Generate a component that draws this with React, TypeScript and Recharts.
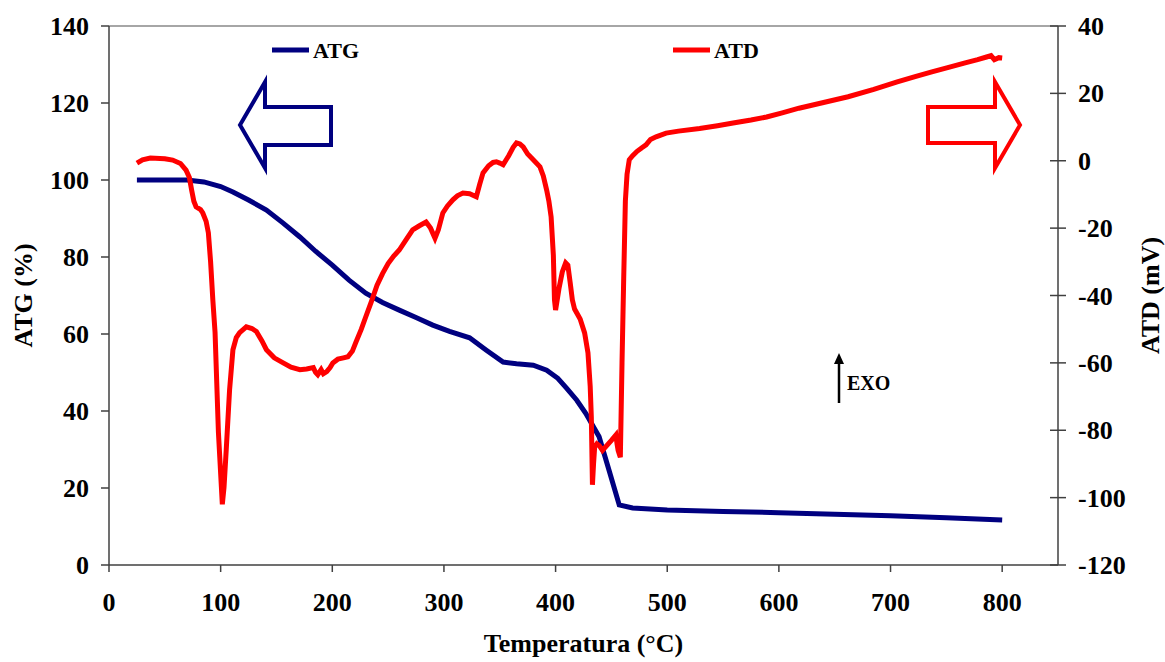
import { ComposedChart, Line, XAxis, YAxis, Legend, ReferenceLine } from 'recharts'

// temperature (°C) / weight loss (%)
const atgTemp = [25, 50, 70, 85, 100, 111, 125, 141, 156, 171, 185, 200, 215, 230, 245, 260, 275, 290, 305, 323, 338, 353, 365, 380, 392, 402, 410, 419, 427, 439, 448, 457, 469, 500, 550, 600, 650, 700, 750, 800]
const atgValue = [100, 100, 100, 99.5, 98.3, 96.9, 94.8, 92.2, 88.8, 85.2, 81.5, 77.9, 74, 70.6, 68.2, 66.2, 64.3, 62.3, 60.7, 59, 55.8, 52.7, 52.3, 51.9, 50.6, 48.5, 45.9, 42.8, 39.4, 33.3, 24.5, 15.6, 14.8, 14.3, 13.9, 13.6, 13.2, 12.8, 12.3, 11.7]

// temperature (°C) / DTA signal (mV)
const atdTemp = [25, 30, 37, 50, 57, 64, 69, 72, 74, 76, 78, 82, 84, 87, 89, 91, 93, 95, 98, 101.5, 103, 105, 108, 111, 114, 117, 123, 128, 132, 137, 141, 148, 156, 163, 171, 177, 183, 185, 187, 190, 192, 195, 198, 200.5, 205, 210, 214, 218, 221, 226, 230, 235, 240, 245, 250, 255, 260, 266, 272, 278, 284, 288, 292, 295, 299, 303, 308, 312, 317, 323, 329, 332, 335, 340, 344, 347, 350, 353, 358, 362, 365, 368, 371, 375, 380, 386, 389, 392, 394, 396, 398, 399, 400, 403, 406, 409, 411, 413, 415, 417, 419, 422, 426, 429, 431, 432, 433, 434, 435, 437, 439, 442, 446, 450, 454, 455, 456, 458, 459.5, 461, 462.5, 464, 466, 469, 473, 477, 481, 485, 490, 499, 510, 529, 545, 559, 575, 589, 603, 618, 640, 662, 685, 706, 722, 737, 752, 766, 778, 786, 790, 793, 797, 800]
const atdValue = [-0.7, 0.3, 0.8, 0.6, 0.2, -0.8, -2.8, -5, -8.7, -12, -13.7, -14.5, -15.5, -18, -21.4, -30, -41.3, -51, -80.6, -102, -97, -85.8, -68, -56.1, -52.5, -51, -49.3, -49.8, -50.7, -53.5, -56.1, -58.5, -60, -61.3, -62, -61.8, -61.4, -62.8, -63.5, -62, -63.2, -62.6, -61.4, -60, -58.9, -58.5, -58.2, -56.5, -54, -50, -46.3, -41.8, -37, -33.5, -30.5, -28.3, -26.5, -23.5, -20.5, -19.3, -18.2, -20, -23, -20.5, -15.5, -13.5, -11.6, -10.4, -9.6, -9.8, -10.7, -7, -3.6, -1.5, -0.5, -0.3, -0.7, -1.2, 1.5, 4, 5.3, 5, 4.1, 2, 0.3, -1.8, -4.5, -8.7, -12, -16.7, -28, -41.3, -44.3, -38, -33, -30.3, -31, -36, -41.3, -44, -45.2, -47, -51.1, -57, -67, -76, -96.2, -90, -85, -84, -84.5, -86, -84.5, -83, -81.4, -84, -86, -88, -60, -35, -12, -4, 0.3, 1.5, 2.8, 3.8, 4.7, 6.3, 7.1, 8.2, 8.8, 9.6, 10.4, 11.2, 12.1, 13, 14.2, 15.6, 17.3, 19, 21.2, 23.4, 25, 26.4, 27.7, 29, 30, 30.8, 31.2, 30, 30.6, 30.5]

const xTicks = [0, 100, 200, 300, 400, 500, 600, 700, 800]
const atgTicks = [0, 20, 40, 60, 80, 100, 120, 140]
const atdTicks = [-120, -100, -80, -60, -40, -20, 0, 20, 40]

const atgData = atgTemp.map((t, i) => ({ t, atg: atgValue[i] }))
const atdData = atdTemp.map((t, i) => ({ t, atd: atdValue[i] }))

const FONT = '"Liberation Serif", "Times New Roman", serif'
const AXIS = '#404040'
const tickStyle = { fontFamily: FONT, fontSize: 26, fontWeight: 700, fill: '#000' }

function RightTick(props: any) {
	const { x, y, payload } = props
	// ticks cross the right axis (axis sits 20px left of the label)
	return (
		<g>
			<line x1={x - 28} x2={x - 12} y1={y} y2={y} stroke={AXIS} strokeWidth={1.5} />
			<text x={x} y={y} dy="0.35em" textAnchor="start" style={tickStyle}>
				{payload.value}
			</text>
		</g>
	)
}

function SideLabel({ viewBox, value, dx }: any) {
	const cx = viewBox.x + dx
	const cy = viewBox.y + viewBox.height / 2
	return (
		<text x={cx} y={cy} transform={`rotate(-90, ${cx}, ${cy})`} textAnchor="middle" style={tickStyle}>
			{value}
		</text>
	)
}

function LegendBox({ payload }: any) {
	const spots: Record<string, number> = { ATG: 272, ATD: 673 }
	return (
		<svg width={1165} height={662} style={{ position: 'absolute', left: 0, top: 0 }}>
			{(payload || []).map((p: any) => {
				const lx = spots[p.value]
				return (
					<g key={p.value}>
						<line x1={lx} x2={lx + 37} y1={50} y2={50} stroke={p.color} strokeWidth={5} />
						<text x={lx + 41} y={58} style={{ ...tickStyle, fontSize: 22 }}>{p.value}</text>
					</g>
				)
			})}
		</svg>
	)
}

export default function App() {
	return (
		<div style={{ position: 'absolute', left: 0, top: 0, width: 1165, height: 662, background: '#fff' }}>
			<ComposedChart width={1165} height={662} margin={{ top: 26, right: 0, bottom: 0, left: 0 }}>
				<XAxis
					dataKey="t"
					type="number"
					domain={[0, 850]}
					ticks={xTicks}
					allowDataOverflow
					height={97}
					stroke={AXIS}
					strokeWidth={1.5}
					tickSize={7}
					tickMargin={21}
					tick={tickStyle}
					label={{ value: 'Temperatura (°C)', position: 'insideBottom', offset: 10, style: tickStyle }}
				/>
				<YAxis
					yAxisId="left"
					domain={[0, 140]}
					ticks={atgTicks}
					width={109}
					stroke={AXIS}
					strokeWidth={1.5}
					tickSize={8}
					tickMargin={12}
					tick={tickStyle}
					label={<SideLabel value="ATG (%)" dx={32} />}
				/>
				<YAxis
					yAxisId="right"
					orientation="right"
					domain={[-120, 40]}
					ticks={atdTicks}
					width={107}
					stroke={AXIS}
					strokeWidth={1.5}
					tickSize={8}
					tickMargin={12}
					tickLine={false}
					tick={<RightTick />}
					label={<SideLabel value="ATD (mV)" dx={101} />}
				/>
				<ReferenceLine yAxisId="left" y={140} stroke="#888" strokeWidth={1.5} />
				<Legend verticalAlign="middle" align="center" content={<LegendBox />} wrapperStyle={{ left: 0, top: 0, width: 1165, height: 662 }} />
				<Line yAxisId="left" data={atgData} dataKey="atg" name="ATG" type="linear" stroke="#000080" strokeWidth={5} dot={false} isAnimationActive={false} />
				<Line yAxisId="right" data={atdData} dataKey="atd" name="ATD" type="linear" stroke="#ff0000" strokeWidth={5} dot={false} isAnimationActive={false} />
			</ComposedChart>
			<svg width={1165} height={662} style={{ position: 'absolute', left: 0, top: 0, pointerEvents: 'none' }}>
				{/* ATG axis hint: hollow arrow pointing left */}
				<polygon points="240,125 265,82 265,107 331,107 331,145 265,145 265,168" fill="none" stroke="#000080" strokeWidth={4} strokeLinejoin="miter" />
				{/* ATD axis hint: hollow arrow pointing right */}
				<polygon points="1020,125 995,82 995,107 928,107 928,143 995,143 995,168" fill="none" stroke="#ff0000" strokeWidth={4} strokeLinejoin="miter" />
				{/* EXO marker */}
				<line x1={839} x2={839} y1={403} y2={362} stroke="#000" strokeWidth={2.5} />
				<polygon points="839,353 834,364 844,364" fill="#000" />
				<text x={847} y={390} style={{ ...tickStyle, fontSize: 20 }}>EXO</text>
			</svg>
		</div>
	)
}
